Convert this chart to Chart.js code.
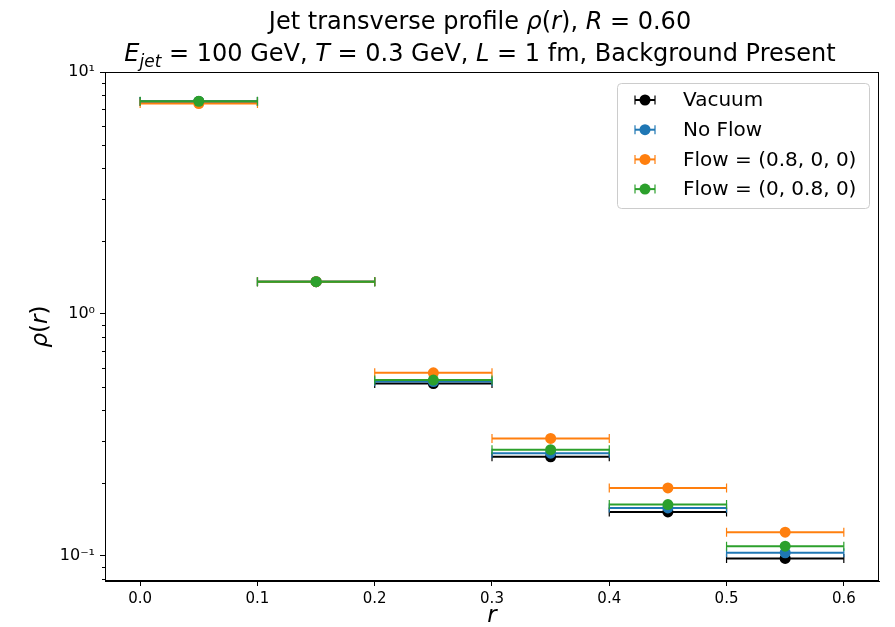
<!DOCTYPE html>
<html>
<head>
<meta charset="utf-8">
<script src="https://cdn.jsdelivr.net/npm/chart.js@4.4.0/dist/chart.umd.min.js"></script>
<style>
  html, body { margin: 0; padding: 0; background: #fff; }
  #wrap { width: 895px; height: 627px; }
</style>
</head>
<body>
<div id="wrap"><canvas id="profile" width="895" height="627"></canvas></div>
<script>
// bin centres in r and half bin width (x error)
var rCenters = [0.05, 0.15, 0.25, 0.35, 0.45, 0.55];
var rHalfWidth = 0.05;

// rho(r)
var vacuum  = [7.55, 1.36, 0.516, 0.257, 0.152, 0.0977];
var noFlow  = [7.56, 1.36, 0.526, 0.266, 0.158, 0.1031];
var flowX   = [7.41, 1.36, 0.571, 0.306, 0.191, 0.1254];
var flowY   = [7.57, 1.36, 0.533, 0.275, 0.163, 0.1098];

var seriesNames = ["Vacuum", "No Flow", "Flow = (0.8, 0, 0)", "Flow = (0, 0.8, 0)"];
var seriesColors = ["#000000", "#1f77b4", "#ff7f0e", "#2ca02c"];

var xTicks = [0.0, 0.1, 0.2, 0.3, 0.4, 0.5, 0.6];
var yTicks = [0.1, 1, 10];
var yTickLabels = ["10\u207B\u00B9", "10\u2070", "10\u00B9"];

var FONT = '"DejaVu Sans", sans-serif';

function toPoints(vals) {
  return vals.map(function (v, i) { return { x: rCenters[i], y: v }; });
}

var allSeries = [vacuum, noFlow, flowX, flowY];
var datasets = allSeries.map(function (vals, k) {
  return {
    label: seriesNames[k],
    data: toPoints(vals),
    backgroundColor: seriesColors[k],
    borderColor: seriesColors[k],
    pointRadius: 5.5,
    pointHoverRadius: 5.5,
    pointBorderWidth: 0,
    showLine: false,
    order: 4 - k   // later series on top, like matplotlib
  };
});

// draws segments of mixed upright / italic text, centred on cx
function drawRich(ctx, segs, cx, y, size) {
  var total = 0;
  segs.forEach(function (s) {
    ctx.font = (s.i ? "italic " : "") + (s.sub ? Math.round(size * 0.7) : size) + "px " + FONT;
    s.w = ctx.measureText(s.t).width;
    total += s.w;
  });
  var x = cx - total / 2;
  ctx.textAlign = "left";
  ctx.textBaseline = "alphabetic";
  segs.forEach(function (s) {
    ctx.font = (s.i ? "italic " : "") + (s.sub ? Math.round(size * 0.7) : size) + "px " + FONT;
    ctx.fillText(s.t, x, y + (s.sub ? size * 0.25 : 0));
    x += s.w;
  });
}

function errBar(ctx, x0, x1, py) {
  ctx.lineWidth = 2;
  ctx.beginPath();
  ctx.moveTo(x0, py); ctx.lineTo(x1, py);
  ctx.stroke();
  ctx.lineWidth = 1.2;
  ctx.beginPath();
  ctx.moveTo(x0, py - 4.5); ctx.lineTo(x0, py + 4.5);
  ctx.moveTo(x1, py - 4.5); ctx.lineTo(x1, py + 4.5);
  ctx.stroke();
}

var decor = {
  id: "decor",
  beforeDatasetDraw: function (chart, args) {
    // horizontal error bars for this series, just before its markers
    var ctx = chart.ctx, xs = chart.scales.x, ys = chart.scales.y;
    var ds = chart.data.datasets[args.index];
    ctx.save();
    ctx.strokeStyle = ds.borderColor;
    ds.data.forEach(function (p) {
      errBar(ctx, xs.getPixelForValue(p.x - rHalfWidth), xs.getPixelForValue(p.x + rHalfWidth),
        ys.getPixelForValue(p.y));
    });
    ctx.restore();
  },
  afterDraw: function (chart) {
    var ctx = chart.ctx, a = chart.chartArea, ys = chart.scales.y;
    ctx.save();
    // frame
    ctx.strokeStyle = "#000";
    ctx.lineWidth = 1;
    ctx.strokeRect(a.left + 0.5, a.top + 0.5, a.right - a.left - 1, a.bottom - a.top - 1);
    // minor log ticks
    ctx.beginPath();
    [0.01, 0.1, 1].forEach(function (dec) {
      for (var m = 2; m <= 9; m++) {
        var v = m * dec;
        if (v < ys.min || v > ys.max) continue;
        var py = Math.round(ys.getPixelForValue(v)) + 0.5;
        ctx.moveTo(a.left, py); ctx.lineTo(a.left - 3, py);
      }
    });
    ctx.stroke();

    ctx.fillStyle = "#000";
    // title
    drawRich(ctx, [
      { t: "Jet transverse profile " }, { t: "\u03C1", i: 1 }, { t: "(" }, { t: "r", i: 1 },
      { t: "), " }, { t: "R", i: 1 }, { t: " = 0.60" }
    ], 480, 29, 24);
    drawRich(ctx, [
      { t: "E", i: 1 }, { t: "jet", i: 1, sub: 1 }, { t: " = 100 GeV, " }, { t: "T", i: 1 },
      { t: " = 0.3 GeV, " }, { t: "L", i: 1 }, { t: " = 1 fm, Background Present" }
    ], 480, 61, 24);

    // axis titles
    drawRich(ctx, [{ t: "r", i: 1 }], (a.left + a.right) / 2, 622, 23);
    ctx.save();
    ctx.translate(47, (a.top + a.bottom) / 2);
    ctx.rotate(-Math.PI / 2);
    drawRich(ctx, [{ t: "\u03C1", i: 1 }, { t: "(" }, { t: "r", i: 1 }, { t: ")" }], 0, 0, 23);
    ctx.restore();

    // legend
    var lx = 617, ly = 83, lw = 252, lh = 125;
    ctx.fillStyle = "rgba(255,255,255,0.8)";
    ctx.strokeStyle = "#cccccc";
    ctx.lineWidth = 1;
    ctx.beginPath();
    ctx.roundRect(lx + 0.5, ly + 0.5, lw, lh, 4);
    ctx.fill(); ctx.stroke();
    ctx.font = "20px " + FONT;
    ctx.textBaseline = "middle";
    ctx.textAlign = "left";
    chart.data.datasets.forEach(function (ds, k) {
      var cy = 100 + k * 29.7;
      ctx.strokeStyle = ds.borderColor;
      ctx.fillStyle = ds.backgroundColor;
      errBar(ctx, 635, 655, cy);
      ctx.beginPath();
      ctx.arc(645, cy, 5.5, 0, Math.PI * 2);
      ctx.fill();
      ctx.fillStyle = "#000";
      ctx.fillText(ds.label, 683, cy + 1);
    });
    ctx.restore();
  }
};

var ctx = document.getElementById("profile");
var profileChart = new Chart(ctx, {
  type: "scatter",
  data: { datasets: datasets },
  options: {
    responsive: false,
    animation: false,
    events: [],
    layout: { padding: { top: 72, right: 16, left: 0, bottom: 0 } },
    plugins: {
      legend: { display: false },
      title: { display: false },
      tooltip: { enabled: false }
    },
    scales: {
      x: {
        type: "linear",
        min: -0.03,
        max: 0.63,
        afterBuildTicks: function (scale) {
          scale.ticks = xTicks.map(function (v) { return { value: v }; });
        },
        afterFit: function (scale) { scale.height = 46; },
        grid: { display: true, drawOnChartArea: false, drawTicks: true, tickLength: 5, color: "#000", tickColor: "#000" },
        border: { display: true, color: "#000", width: 1 },
        ticks: {
          color: "#000",
          font: { family: FONT, size: 15 },
          padding: 4,
          maxRotation: 0,
          callback: function (v) { return Number(v).toFixed(1); }
        }
      },
      y: {
        type: "logarithmic",
        min: 0.0788,
        max: 10,
        afterBuildTicks: function (scale) {
          scale.ticks = yTicks.map(function (v) { return { value: v }; });
        },
        afterFit: function (scale) { scale.width = 105; },
        grid: { display: true, drawOnChartArea: false, drawTicks: true, tickLength: 5, color: "#000", tickColor: "#000" },
        border: { display: true, color: "#000", width: 1 },
        ticks: {
          color: "#000",
          font: { family: FONT, size: 16 },
          padding: 5,
          callback: function (v) {
            var i = yTicks.indexOf(v);
            return i >= 0 ? yTickLabels[i] : "";
          }
        }
      }
    }
  },
  plugins: [decor]
});
</script>
</body>
</html>
